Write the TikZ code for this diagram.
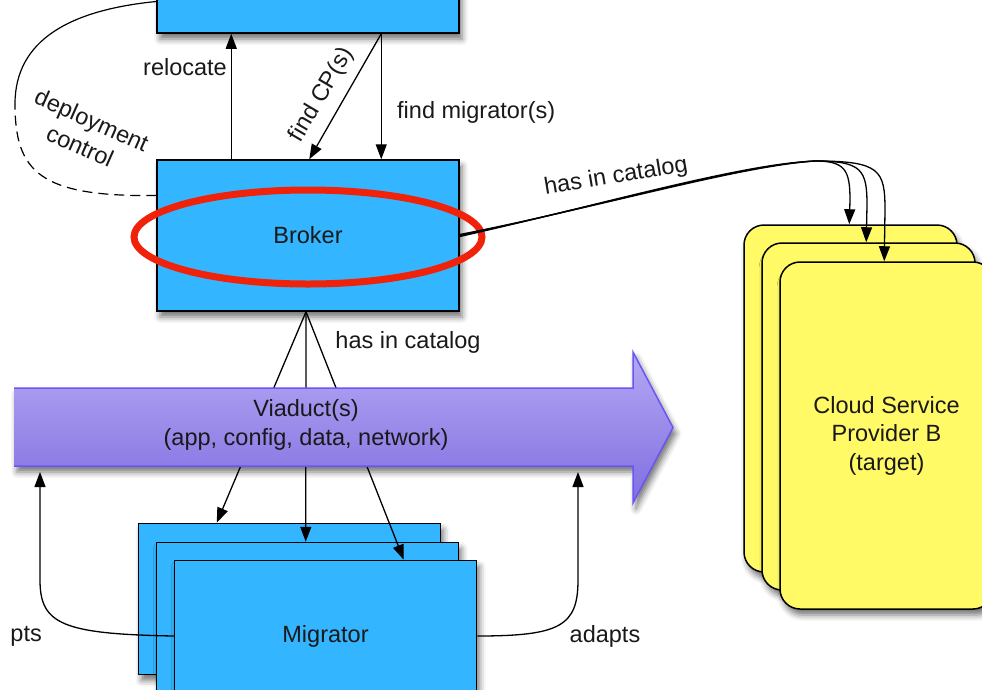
\documentclass[tikz,border=0pt]{standalone}
\usepackage{fontspec}
\setmainfont{Liberation Sans}
\usetikzlibrary{arrows.meta,shadows.blur,calc}
\definecolor{boxblue}{RGB}{51,181,255}
\definecolor{cardyellow}{RGB}{255,250,102}
\definecolor{pipetop}{RGB}{180,168,244}
\definecolor{pipebot}{RGB}{128,110,224}
\definecolor{pipeedge}{RGB}{104,86,246}
\definecolor{ringred}{RGB}{240,35,10}
\definecolor{ink}{RGB}{25,25,25}

\begin{document}
\begin{tikzpicture}[x=1pt,y=-1pt,
  every node/.style={font=\fontsize{23.5}{28.5}\selectfont, text=ink},
  softshadow/.style={blur shadow={shadow xshift=3pt,shadow yshift=-6pt,shadow blur radius=6pt,shadow opacity=55}},
  comp/.style={draw=black, line width=1.5pt, fill=boxblue, minimum width=302pt,
    minimum height=151pt, inner sep=0pt, softshadow},
  csp/.style={draw=black, line width=1.5pt, fill=cardyellow, rounded corners=20pt,
    minimum width=213pt, minimum height=347pt, inner sep=0pt, align=center, softshadow},
  link/.style={draw=black, line width=1.3pt},
  arr/.style={link, -{Triangle[length=15pt,width=11pt]}},
  lbl/.style={inner sep=0pt, align=center}
]
\useasboundingbox (0,0) rectangle (982,689);
\clip (0,0) rectangle (982,689);

% components
\node[comp] (top) at (308,-42.5) {};
\node[comp] (broker) at (308,235.5) {Broker};
\node[comp] (mig1) at (289.5,599) {};
\node[comp] (mig2) at (307.5,618) {};
\node[comp] (mig3) at (325.5,636) {Migrator};

% cloud service provider cards
\node[csp] (csp1) at (850.5,398.5) {};
\node[csp] (csp2) at (868.5,416.5) {};
\node[csp] (csp3) at (886.5,435.5) {Cloud Service\\Provider B\\(target)};

% catalog links from the broker down to the migrators (behind the viaduct)
\draw[arr] ([xshift=-2pt]broker.south) -- ([xshift=79pt]mig1.north west);
\draw[arr] ([xshift=-2pt]broker.south) -- ([xshift=150pt]mig2.north west);
\draw[arr] ([xshift=-2pt]broker.south) -- ([xshift=230pt]mig3.north west);
\node[lbl] (catlow) at (408,342) {has in catalog};

% viaduct pipe
\path[top color=pipetop, bottom color=pipebot, softshadow]
  (14,388) -- (633,388) -- (633,352) -- (673,427.5) -- (633,503) -- (633,466) -- (14,466) -- cycle;
\draw[pipeedge, line width=1.5pt, line join=miter]
  (14,388) -- (633,388) -- (633,352) -- (673,427.5) -- (633,503) -- (633,466) -- (14,466);
\node[lbl] (viaduct) at (306,425) {Viaduct(s)\\(app, config, data, network)};

% highlight ring round the broker
\draw[ringred, line width=7pt] ([yshift=-1.5pt]broker.center) ellipse [x radius=174pt, y radius=47pt];

% broker <-> top component
\draw[arr] ([xshift=75pt]broker.north west) -- ([xshift=75pt]top.south west);
\node[lbl] (reloc) at (185,67) {relocate};
\draw[arr] ([xshift=225pt]top.south west) -- ([xshift=153pt]broker.north west);
\node[lbl, rotate=59.5] (findcp) at (322,95) {find CP(s)};
\draw[arr] ([xshift=225pt]top.south west) -- ([xshift=225pt]broker.north west);
\node[lbl, anchor=west] (findmig) at (397,112) {find migrator(s)};

% deployment control loop
\coordinate (dcturn) at (15,104);
\draw[link, line width=1.2pt, dash pattern=on 10pt off 6pt]
  ([yshift=40pt]broker.west) .. controls (40,197) and (15,172) .. (dcturn);
\draw[link, line width=1.2pt] (dcturn) .. controls (15,40) and (70,10) .. ([yshift=-44pt]top.west);
\node[lbl, rotate=-24] (dclabel) at (86,133) {deployment\\control};

% catalog links from the broker to the providers
\draw[arr] ([yshift=1pt]broker.east) .. controls (600,207) and (740,166) .. (815,161)
  .. controls (845,161) and (850,170) .. (850,200) -- ([xshift=106pt]csp1.north west);
\draw[arr] (broker.east) .. controls (600,206) and (740,165) .. (815,161)
  .. controls (862,161) and (867,170) .. (867,205) -- ([xshift=105pt]csp2.north west);
\draw[arr] ([yshift=-1pt]broker.east) .. controls (600,205) and (740,164) .. (815,161)
  .. controls (880,161) and (885,170) .. (885,210) -- ([xshift=105pt]csp3.north west);
\node[lbl, rotate=9.5] (catup) at (616,177) {has in catalog};

% adaptation of the viaduct by the migrator
\coordinate (adR) at (578,472);
\coordinate (adL) at (40,472);
\draw[arr] (mig3.east) .. controls (560,636) and (578,626) .. (578,580) -- (adR);
\draw[arr] (mig3.west) .. controls (62,634) and (40,624) .. (40,580) -- (adL);
\node[lbl] (adaptsR) at (605,636) {adapts};
\node[lbl, anchor=east] (adaptsL) at (42,636) {pts};
\end{tikzpicture}
\end{document}
